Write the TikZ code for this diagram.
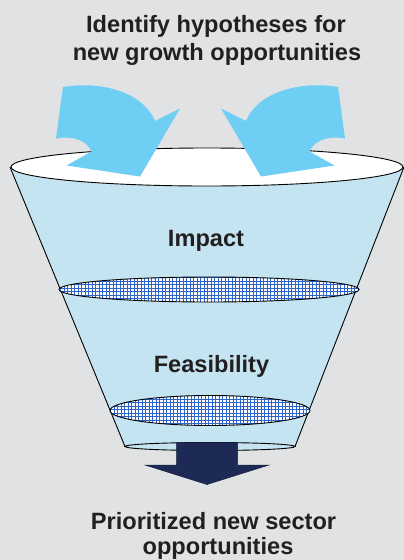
\documentclass[tikz,border=0pt]{standalone}
\usepackage{fontspec}
\setmainfont{Liberation Sans}
\definecolor{bggray}{RGB}{225,226,228}
\definecolor{funnelblue}{RGB}{197,228,241}
\definecolor{arrowblue}{RGB}{111,206,243}
\definecolor{navy}{RGB}{28,42,85}
\definecolor{gridblue}{RGB}{45,100,200}
\definecolor{inkdark}{RGB}{35,31,32}

\begin{document}
\begin{tikzpicture}[x=1pt,y=-1pt,
  headtext/.style={font=\fontsize{23.6}{28}\selectfont\bfseries, text=inkdark, anchor=base, inner sep=0pt},
  rim/.style={draw=black, line width=0.9pt},
  inflow/.style={fill=arrowblue},
  gridline/.style={draw=gridblue, line width=0.75pt},
]
% page background
\fill[bggray] (0,0) rectangle (404,560);
\useasboundingbox (0,0) rectangle (404,560);

% funnel body
\fill[funnelblue] (10,167) -- (125,446.5)
  arc[start angle=180, end angle=360, x radius=85pt, y radius=4pt]
  -- (404,167) -- cycle;
\draw[rim] (10,167) -- (125,446.5);
\draw[rim] (404,167) -- (295,446.5);
\draw[rim] (210,446.5) ellipse[x radius=85pt, y radius=4pt];

% open top of the funnel
\filldraw[fill=white, rim] (207,167) ellipse[x radius=196pt, y radius=19pt];

% impact filter (mesh)
\begin{scope}
  \clip (209,289.5) ellipse[x radius=150pt, y radius=12.5pt];
  \fill[white] (55,275) rectangle (362,305);
  \foreach \i in {0,...,88} \draw[gridline] (57+\i*3.5,272) -- ++(0,36);
  \foreach \j in {0,...,9} \draw[gridline] (55,274+\j*3.5) -- ++(310,0);
\end{scope}
\draw[rim] (209,289.5) ellipse[x radius=150pt, y radius=12.5pt];

% feasibility filter (mesh)
\begin{scope}
  \clip (210,410.5) ellipse[x radius=100pt, y radius=15pt];
  \fill[white] (105,393) rectangle (315,428);
  \foreach \i in {0,...,61} \draw[gridline] (107+\i*3.5,390) -- ++(0,42);
  \foreach \j in {0,...,11} \draw[gridline] (105,392+\j*3.5) -- ++(210,0);
\end{scope}
\draw[rim] (210,410.5) ellipse[x radius=100pt, y radius=15pt];

% curved inflow arrows
\fill[inflow] (63,87) .. controls (97,81) and (142,90) .. (155,121)
  -- (180,108.5) -- (140,176.5) -- (66.5,165.5) -- (91.5,151.5)
  .. controls (88,142) and (75,135) .. (56,138.5) -- cycle;
\begin{scope}[xshift=401pt, xscale=-1]
\fill[inflow] (63,87) .. controls (97,81) and (142,90) .. (155,121)
  -- (180,108.5) -- (140,176.5) -- (66.5,165.5) -- (91.5,151.5)
  .. controls (88,142) and (75,135) .. (56,138.5) -- cycle;
\end{scope}

% output arrow
\filldraw[fill=navy, draw=navy!70!black, line width=0.5pt]
  (176.5,442.5) -- (237.5,442.5) -- (237.5,465) -- (269,465)
  -- (207,484.5) -- (145,465) -- (176.5,465) -- cycle;

% texts
\node[headtext] (goalA) at (216,32.3) {Identify hypotheses for};
\node[headtext] (goalB) at (217,60.8) {new growth opportunities};
\node[headtext] (impact) at (206,246.5) {Impact};
\node[headtext] (feasibility) at (211.5,372) {Feasibility};
\node[headtext] (resultA) at (213.5,529) {Prioritized new sector};
\node[headtext] (resultB) at (218,554.5) {opportunities};
\end{tikzpicture}
\end{document}
